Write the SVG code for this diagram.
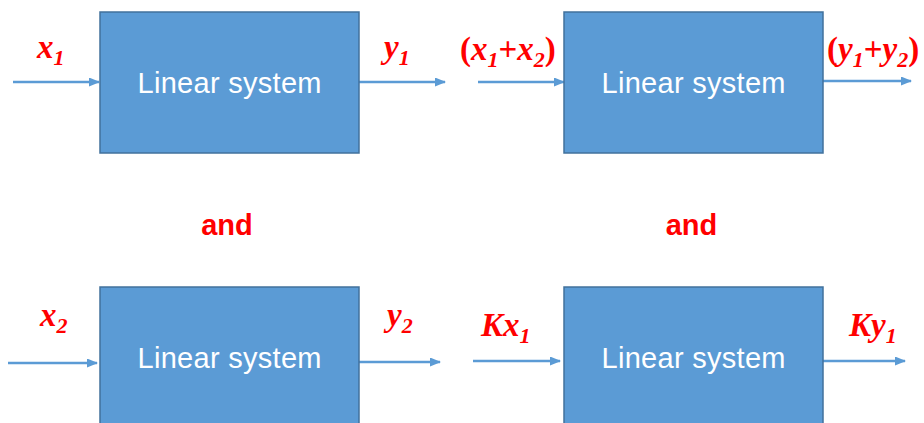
<svg xmlns="http://www.w3.org/2000/svg" width="924" height="423" viewBox="0 0 924 423">
<defs>
<style>
.box{fill:#5B9BD5;stroke:#41719C;stroke-width:1.5}
.lbl{fill:#fff;font-family:"Liberation Sans",Arial,sans-serif;font-size:29px;text-anchor:middle}
.conn{stroke:#5B9BD5;stroke-width:2.5;fill:none;marker-end:url(#ah)}
.sig{fill:#FF0000;font-family:"Liberation Serif","Times New Roman",serif;font-style:italic;font-weight:bold;font-size:33px}
.sub{font-size:22px}
.up{font-style:normal}
.and{fill:#FF0000;font-family:"Liberation Sans",Arial,sans-serif;font-weight:bold;font-size:29px;text-anchor:middle}
</style>
<marker id="ah" markerWidth="11" markerHeight="9" refX="10" refY="4.5" orient="auto" markerUnits="userSpaceOnUse">
<path d="M0,0 L11,4.5 L0,9 Z" fill="#5B9BD5"/>
</marker>
</defs>
<rect width="924" height="423" fill="#fff"/>
<g id="connectors">
<line class="conn" x1="13" y1="82" x2="99" y2="82"/>
<line class="conn" x1="359" y1="82" x2="445" y2="82"/>
<line class="conn" x1="478" y1="82" x2="564" y2="82"/>
<line class="conn" x1="823" y1="81" x2="911" y2="81"/>
<line class="conn" x1="8" y1="363" x2="97" y2="363"/>
<line class="conn" x1="359" y1="362" x2="440" y2="362"/>
<line class="conn" x1="473" y1="361" x2="560" y2="361"/>
<line class="conn" x1="823" y1="361" x2="905" y2="361"/>
</g>
<g id="node1">
<rect class="box" x="100" y="12" width="259" height="141"/>
<text class="lbl" x="229.5" y="93" textLength="184">Linear system</text>
</g>
<g id="node2">
<rect class="box" x="564" y="12" width="259" height="141"/>
<text class="lbl" x="693.5" y="93" textLength="184">Linear system</text>
</g>
<g id="node3">
<rect class="box" x="100" y="287" width="259" height="150"/>
<text class="lbl" x="229.5" y="368" textLength="184">Linear system</text>
</g>
<g id="node4">
<rect class="box" x="564" y="287" width="259" height="150"/>
<text class="lbl" x="693.5" y="368" textLength="184">Linear system</text>
</g>
<g id="labels">
<text class="sig" x="37" y="58">x<tspan class="sub" dy="7">1</tspan></text>
<text class="sig" x="384" y="58">y<tspan class="sub" dy="7">1</tspan></text>
<text class="sig" x="460" y="60"><tspan class="up">(</tspan>x<tspan class="sub" dy="7">1</tspan><tspan class="up" dy="-7">+</tspan>x<tspan class="sub" dy="7">2</tspan><tspan class="up" dy="-7">)</tspan></text>
<text class="sig" x="827" y="60"><tspan class="up">(</tspan>y<tspan class="sub" dy="7">1</tspan><tspan class="up" dy="-7">+</tspan>y<tspan class="sub" dy="7">2</tspan><tspan class="up" dy="-7">)</tspan></text>
<text class="sig" x="40" y="326">x<tspan class="sub" dy="7">2</tspan></text>
<text class="sig" x="387" y="326">y<tspan class="sub" dy="7">2</tspan></text>
<text class="sig" x="481" y="336">Kx<tspan class="sub" dy="7">1</tspan></text>
<text class="sig" x="849" y="336">Ky<tspan class="sub" dy="7">1</tspan></text>
<text class="and" x="227" y="235">and</text>
<text class="and" x="691.5" y="235">and</text>
</g>
</svg>
